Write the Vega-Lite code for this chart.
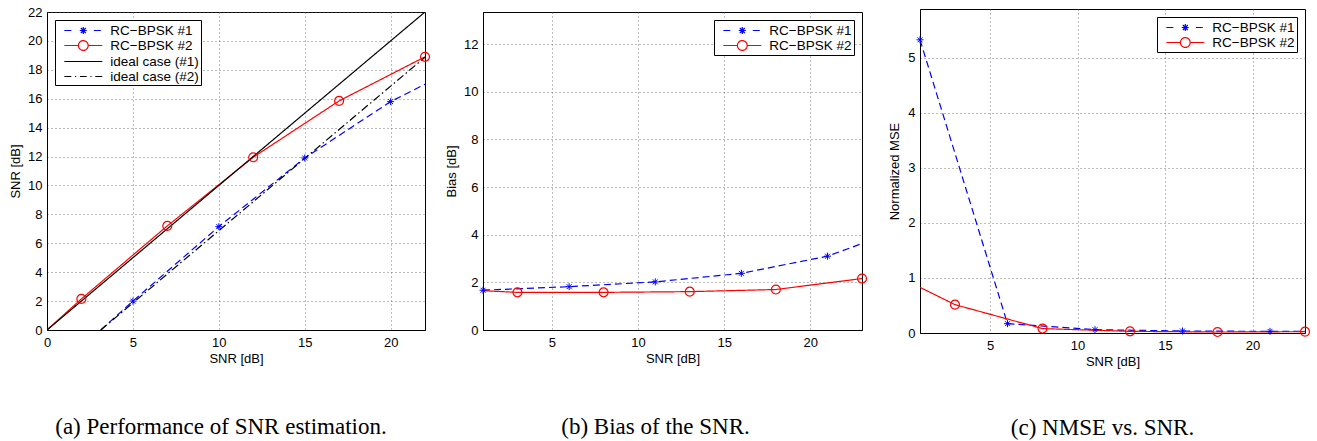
{
  "$schema": "https://vega.github.io/schema/vega-lite/v6.json",
  "padding": {"left": 9, "top": 5, "right": 5, "bottom": 5},
  "background": "white",
  "datasets": {
    "a": [
      {"x": 3.13, "y": 0, "s": "RC−BPSK #1", "m": 0},
      {"x": 5, "y": 2.0, "s": "RC−BPSK #1", "m": 1},
      {"x": 10, "y": 7.15, "s": "RC−BPSK #1", "m": 1},
      {"x": 15, "y": 11.9, "s": "RC−BPSK #1", "m": 1},
      {"x": 20, "y": 15.8, "s": "RC−BPSK #1", "m": 1},
      {"x": 22, "y": 17.0, "s": "RC−BPSK #1", "m": 0},
      {"x": 0, "y": 0, "s": "RC−BPSK #2", "m": 0},
      {"x": 2, "y": 2.15, "s": "RC−BPSK #2", "m": 1},
      {"x": 7, "y": 7.2, "s": "RC−BPSK #2", "m": 1},
      {"x": 12, "y": 11.95, "s": "RC−BPSK #2", "m": 1},
      {"x": 17, "y": 15.85, "s": "RC−BPSK #2", "m": 1},
      {"x": 22, "y": 18.9, "s": "RC−BPSK #2", "m": 1},
      {"x": 0, "y": 0, "s": "ideal case (#1)", "m": 0},
      {"x": 22, "y": 22, "s": "ideal case (#1)", "m": 0},
      {"x": 3.13, "y": 0, "s": "ideal case (#2)", "m": 0},
      {"x": 22, "y": 18.87, "s": "ideal case (#2)", "m": 0}
    ],
    "b": [
      {"x": 1, "y": 1.67, "s": "RC−BPSK #1", "m": 1},
      {"x": 6, "y": 1.82, "s": "RC−BPSK #1", "m": 1},
      {"x": 11, "y": 2.02, "s": "RC−BPSK #1", "m": 1},
      {"x": 16, "y": 2.38, "s": "RC−BPSK #1", "m": 1},
      {"x": 21, "y": 3.1, "s": "RC−BPSK #1", "m": 1},
      {"x": 23, "y": 3.63, "s": "RC−BPSK #1", "m": 0},
      {"x": 1, "y": 1.65, "s": "RC−BPSK #2", "m": 0},
      {"x": 3, "y": 1.58, "s": "RC−BPSK #2", "m": 1},
      {"x": 8, "y": 1.58, "s": "RC−BPSK #2", "m": 1},
      {"x": 13, "y": 1.61, "s": "RC−BPSK #2", "m": 1},
      {"x": 18, "y": 1.7, "s": "RC−BPSK #2", "m": 1},
      {"x": 23, "y": 2.16, "s": "RC−BPSK #2", "m": 1}
    ],
    "c": [
      {"x": 1, "y": 5.33, "s": "RC−BPSK #1", "m": 1},
      {"x": 6, "y": 0.17, "s": "RC−BPSK #1", "m": 1},
      {"x": 11, "y": 0.06, "s": "RC−BPSK #1", "m": 1},
      {"x": 16, "y": 0.036, "s": "RC−BPSK #1", "m": 1},
      {"x": 21, "y": 0.03, "s": "RC−BPSK #1", "m": 1},
      {"x": 23, "y": 0.03, "s": "RC−BPSK #1", "m": 0},
      {"x": 1, "y": 0.83, "s": "RC−BPSK #2", "m": 0},
      {"x": 3, "y": 0.515, "s": "RC−BPSK #2", "m": 1},
      {"x": 8, "y": 0.08, "s": "RC−BPSK #2", "m": 1},
      {"x": 13, "y": 0.03, "s": "RC−BPSK #2", "m": 1},
      {"x": 18, "y": 0.018, "s": "RC−BPSK #2", "m": 1},
      {"x": 23, "y": 0.024, "s": "RC−BPSK #2", "m": 1}
    ]
  },
  "spacing": 58,
  "bounds": "flush",
  "center": true,
  "resolve": {"scale": {"color": "independent", "strokeDash": "independent"}, "legend": {"color": "independent"}},
  "hconcat": [
    {
      "width": 378, "height": 318,
      "data": {"name": "a"},
      "title": {"text": "(a) Performance of SNR estimation.", "dx": -15},
      "encoding": {
        "x": {"field": "x", "type": "quantitative", "scale": {"domain": [0, 22], "nice": false, "zero": false}, "axis": {"values": [0, 5, 10, 15, 20], "title": "SNR [dB]", "titleX": 189, "titleY": 28}},
        "y": {"field": "y", "type": "quantitative", "scale": {"domain": [0, 22], "nice": false}, "axis": {"values": [0, 2, 4, 6, 8, 10, 12, 14, 16, 18, 20, 22], "title": "SNR [dB]", "titleX": -31.5, "titleY": 159}}
      },
      "layer": [
        {
          "mark": {"type": "line", "strokeWidth": 1.2, "clip": true},
          "encoding": {
            "color": {"field": "s", "type": "nominal", "scale": {"domain": ["RC−BPSK #1", "RC−BPSK #2", "ideal case (#1)", "ideal case (#2)"], "range": ["#0000ff", "#ff0000", "#000000", "#000000"]},
              "legend": {"orient": "top-left",
                "encode": {"symbols": {"update": {
                  "shape": {"signal": "datum.value === 'RC−BPSK #1' ? 'M-2.53,0H-1.4M1.4,0H2.53M-0.47,0H0.47M0,-0.47V0.47M-0.33,-0.33L0.33,0.33M-0.33,0.33L0.33,-0.33' : datum.value === 'RC−BPSK #2' ? 'M-2.53,0H-0.65M0.65,0H2.53M-0.65,0A0.65,0.65 0 1,0 0.65,0A0.65,0.65 0 1,0 -0.65,0' : datum.value === 'ideal case (#1)' ? 'M-2.53,0H2.53' : 'M-2.53,0H-1.6M-1.1,0H-0.95M-0.45,0H0.45M0.95,0H1.1M1.6,0H2.53'"},
                  "stroke": {"signal": "datum.value === 'RC−BPSK #1' ? '#0000ff' : datum.value === 'RC−BPSK #2' ? '#ff0000' : '#000000'"},
                  "fill": {"value": "transparent"}, "strokeWidth": {"value": 1.2}, "size": {"value": 225}, "strokeDash": {"value": [1, 0]}, "opacity": {"value": 1}}}}}},
            "strokeDash": {"field": "s", "type": "nominal", "scale": {"domain": ["RC−BPSK #1", "RC−BPSK #2", "ideal case (#1)", "ideal case (#2)"], "range": [[7, 4], [1, 0], [1, 0], [8, 3, 1.5, 3]]}, "legend": null}
          }
        },
        {
          "transform": [{"filter": "datum.m == 1 && datum.s == 'RC−BPSK #1'"}],
          "mark": {"type": "point", "filled": false, "strokeWidth": 1, "opacity": 1, "color": "#0000ff", "size": 49, "shape": "M-1,0H1M0,-1V1M-0.7,-0.7L0.7,0.7M-0.7,0.7L0.7,-0.7"}
        },
        {
          "transform": [{"filter": "datum.m == 1 && datum.s == 'RC−BPSK #2'"}],
          "mark": {"type": "point", "filled": false, "strokeWidth": 1.2, "opacity": 1, "color": "#ff0000", "size": 80, "shape": "circle"}
        }
      ]
    },
    {
      "width": 379, "height": 318,
      "data": {"name": "b"},
      "title": {"text": "(b) Bias of the SNR.", "dx": -17},
      "encoding": {
        "x": {"field": "x", "type": "quantitative", "scale": {"domain": [1, 23], "nice": false, "zero": false}, "axis": {"values": [5, 10, 15, 20], "title": "SNR [dB]", "titleX": 189.5, "titleY": 28}},
        "y": {"field": "y", "type": "quantitative", "scale": {"domain": [0, 13.35], "nice": false}, "axis": {"values": [0, 2, 4, 6, 8, 10, 12], "title": "Bias [dB]", "titleX": -32, "titleY": 159}}
      },
      "layer": [
        {
          "mark": {"type": "line", "strokeWidth": 1.2, "clip": true},
          "encoding": {
            "color": {"field": "s", "type": "nominal", "scale": {"domain": ["RC−BPSK #1", "RC−BPSK #2"], "range": ["#0000ff", "#ff0000"]},
              "legend": {"orient": "top-right",
                "encode": {"symbols": {"update": {
                  "shape": {"signal": "datum.value === 'RC−BPSK #1' ? 'M-2.53,0H-1.4M1.4,0H2.53M-0.47,0H0.47M0,-0.47V0.47M-0.33,-0.33L0.33,0.33M-0.33,0.33L0.33,-0.33' : 'M-2.53,0H-0.65M0.65,0H2.53M-0.65,0A0.65,0.65 0 1,0 0.65,0A0.65,0.65 0 1,0 -0.65,0'"},
                  "stroke": {"signal": "datum.value === 'RC−BPSK #1' ? '#0000ff' : '#ff0000'"},
                  "fill": {"value": "transparent"}, "strokeWidth": {"value": 1.2}, "size": {"value": 225}, "strokeDash": {"value": [1, 0]}, "opacity": {"value": 1}}}}}},
            "strokeDash": {"field": "s", "type": "nominal", "scale": {"domain": ["RC−BPSK #1", "RC−BPSK #2"], "range": [[7, 4], [1, 0]]}, "legend": null}
          }
        },
        {
          "transform": [{"filter": "datum.m == 1 && datum.s == 'RC−BPSK #1'"}],
          "mark": {"type": "point", "filled": false, "strokeWidth": 1, "opacity": 1, "color": "#0000ff", "size": 49, "shape": "M-1,0H1M0,-1V1M-0.7,-0.7L0.7,0.7M-0.7,0.7L0.7,-0.7"}
        },
        {
          "transform": [{"filter": "datum.m == 1 && datum.s == 'RC−BPSK #2'"}],
          "mark": {"type": "point", "filled": false, "strokeWidth": 1.2, "opacity": 1, "color": "#ff0000", "size": 80, "shape": "circle"}
        }
      ]
    },
    {
      "width": 385, "height": 324,
      "data": {"name": "c"},
      "title": {"text": "(c) NMSE vs. SNR.", "dx": -10, "offset": 49},
      "encoding": {
        "x": {"field": "x", "type": "quantitative", "scale": {"domain": [1, 23], "nice": false, "zero": false}, "axis": {"values": [5, 10, 15, 20], "title": "SNR [dB]", "titleX": 192.5, "titleY": 28}},
        "y": {"field": "y", "type": "quantitative", "scale": {"domain": [0, 5.89], "nice": false}, "axis": {"values": [0, 1, 2, 3, 4, 5], "title": "Normalized MSE", "titleX": -26, "titleY": 162}}
      },
      "layer": [
        {
          "mark": {"type": "line", "strokeWidth": 1.2, "clip": true},
          "encoding": {
            "color": {"field": "s", "type": "nominal", "scale": {"domain": ["RC−BPSK #1", "RC−BPSK #2"], "range": ["#0000ff", "#ff0000"]},
              "legend": {"orient": "top-right",
                "encode": {"symbols": {"update": {
                  "shape": {"signal": "datum.value === 'RC−BPSK #1' ? 'M-2.53,0H-1.4M1.4,0H2.53M-0.47,0H0.47M0,-0.47V0.47M-0.33,-0.33L0.33,0.33M-0.33,0.33L0.33,-0.33' : 'M-2.53,0H-0.65M0.65,0H2.53M-0.65,0A0.65,0.65 0 1,0 0.65,0A0.65,0.65 0 1,0 -0.65,0'"},
                  "stroke": {"signal": "datum.value === 'RC−BPSK #1' ? '#0000ff' : '#ff0000'"},
                  "fill": {"value": "transparent"}, "strokeWidth": {"value": 1.2}, "size": {"value": 225}, "strokeDash": {"value": [1, 0]}, "opacity": {"value": 1}}}}}},
            "strokeDash": {"field": "s", "type": "nominal", "scale": {"domain": ["RC−BPSK #1", "RC−BPSK #2"], "range": [[7, 4], [1, 0]]}, "legend": null}
          }
        },
        {
          "transform": [{"filter": "datum.m == 1 && datum.s == 'RC−BPSK #1'"}],
          "mark": {"type": "point", "filled": false, "strokeWidth": 1, "opacity": 1, "color": "#0000ff", "size": 49, "shape": "M-1,0H1M0,-1V1M-0.7,-0.7L0.7,0.7M-0.7,0.7L0.7,-0.7"}
        },
        {
          "transform": [{"filter": "datum.m == 1 && datum.s == 'RC−BPSK #2'"}],
          "mark": {"type": "point", "filled": false, "strokeWidth": 1.2, "opacity": 1, "color": "#ff0000", "size": 80, "shape": "circle"}
        }
      ]
    }
  ],
  "config": {
    "view": {"stroke": "black", "strokeWidth": 1},
    "axis": {
      "labelFont": "Liberation Sans", "labelFontSize": 13, "labelColor": "black", "labelFlush": false, "labelOverlap": false,
      "tickCount": 100, "format": "d",
      "titleFont": "Liberation Sans", "titleFontSize": 13, "titleFontWeight": "normal", "titleColor": "black",
      "titleAlign": "center", "titleBaseline": "middle",
      "domainColor": "black", "domainWidth": 1, "ticks": false,
      "grid": true, "gridColor": "#555555", "gridDash": [1, 3], "gridWidth": 0.8, "gridOpacity": 1
    },
    "axisX": {"labelPadding": 6},
    "axisY": {"labelPadding": 5, "titleAngle": -90},
    "legend": {
      "title": null, "offset": 8,
      "strokeColor": "black", "fillColor": "white",
      "padding": 2, "rowPadding": 0,
      "labelFont": "Liberation Sans", "labelFontSize": 13.5, "labelColor": "black",
      "symbolOffset": 17.8, "labelOffset": 18.5
    },
    "title": {"orient": "bottom", "offset": 51, "font": "Liberation Serif", "fontSize": 23, "fontWeight": "normal", "color": "black", "anchor": "middle"}
  }
}
